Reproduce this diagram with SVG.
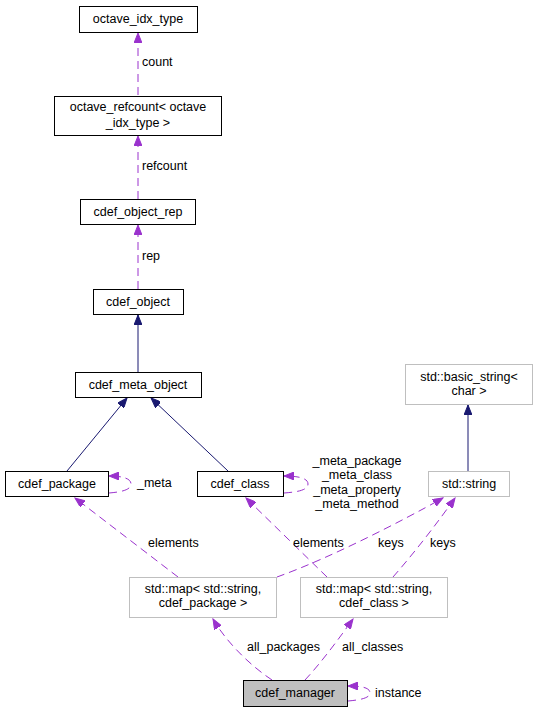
<svg xmlns="http://www.w3.org/2000/svg" width="537" height="712" viewBox="0 0 537 712">
<defs>
<marker id="ap" markerUnits="userSpaceOnUse" markerWidth="11" markerHeight="8" refX="10" refY="4" orient="auto"><path d="M0,0 L10,4 L0,8 z" fill="#9a32cd" stroke="#9a32cd" stroke-width="1"/></marker>
<marker id="an" markerUnits="userSpaceOnUse" markerWidth="11" markerHeight="8" refX="10" refY="4" orient="auto"><path d="M0,0 L10,4 L0,8 z" fill="#191970" stroke="#191970" stroke-width="1"/></marker>
<style>
text{font-family:"Liberation Sans",Arial,sans-serif;font-size:12.5px;fill:#000}
.n rect{fill:#fff;stroke:#000;stroke-width:1}
.g rect{fill:#fff;stroke:#bfbfbf;stroke-width:1}
.n text,.g text{text-anchor:middle}
.d{fill:none;stroke:#9a32cd;stroke-width:1;stroke-dasharray:8,5;marker-end:url(#ap)}
.s{fill:none;stroke:#191970;stroke-width:1;marker-end:url(#an)}
</style>
</defs>
<rect width="537" height="712" fill="#fff"/>
<g id="edges">
<path class="d" d="M138,95 L138,33"/>
<text x="142" y="66">count</text>
<path class="d" d="M138,199 L138,136"/>
<text x="142" y="170">refcount</text>
<path class="d" d="M138,289 L138,225"/>
<text x="142" y="260">rep</text>
<path class="s" d="M138,372 L138,315"/>
<path class="s" d="M67,471 L127,398"/>
<path class="s" d="M228,471 L151,398"/>
<path class="s" d="M468,471 L468,405"/>
<path class="d" d="M109,493 C121,492 131,490 131,484 C131,479 124,476 109,476"/>
<text x="137" y="487">_meta</text>
<path class="d" d="M284,493 C298,492 308,490 308,484 C308,479 301,476 284,476"/>
<text x="357" y="465" text-anchor="middle">_meta_package</text>
<text x="357" y="479" text-anchor="middle">_meta_class</text>
<text x="357" y="494" text-anchor="middle">_meta_property</text>
<text x="357" y="508" text-anchor="middle">_meta_method</text>
<path class="d" d="M178,577 L75,498"/>
<text x="148" y="547">elements</text>
<path class="d" d="M327,577 L246,498"/>
<text x="293" y="547">elements</text>
<path class="d" d="M277,577 C330,558 400,522 443,498"/>
<text x="378" y="547">keys</text>
<path class="d" d="M393,577 C415,552 438,522 455,498"/>
<text x="430" y="547">keys</text>
<path class="d" d="M272,680 C248,664 225,640 213,619"/>
<text x="247" y="651">all_packages</text>
<path class="d" d="M305,680 C320,664 338,640 353,619"/>
<text x="342" y="651">all_classes</text>
<path class="d" d="M348,701 C360,700 370,698 370,693 C370,688 363,686 348,686"/>
<text x="375" y="697">instance</text>
</g>
<g id="octave_idx_type" class="n"><rect x="79.5" y="6.5" width="118" height="26"/><text x="138" y="23">octave_idx_type</text></g>
<g id="octave_refcount" class="n"><rect x="54.5" y="96.5" width="167" height="39"/><text x="138" y="111">octave_refcount&lt; octave</text><text x="138" y="127">_idx_type &gt;</text></g>
<g id="cdef_object_rep" class="n"><rect x="80.5" y="199.5" width="115" height="25"/><text x="138" y="216">cdef_object_rep</text></g>
<g id="cdef_object" class="n"><rect x="93.5" y="289.5" width="90" height="25"/><text x="138" y="306">cdef_object</text></g>
<g id="cdef_meta_object" class="n"><rect x="75.5" y="372.5" width="126" height="25"/><text x="138" y="389">cdef_meta_object</text></g>
<g id="cdef_package" class="n"><rect x="5.5" y="471.5" width="103" height="25"/><text x="57" y="488">cdef_package</text></g>
<g id="cdef_class" class="n"><rect x="197.5" y="471.5" width="86" height="25"/><text x="240" y="488">cdef_class</text></g>
<g id="basic_string" class="g"><rect x="405.5" y="364.5" width="127" height="40"/><text x="469" y="381">std::basic_string&lt;</text><text x="469" y="395">char &gt;</text></g>
<g id="std_string" class="g"><rect x="428.5" y="471.5" width="81" height="25"/><text x="469" y="488">std::string</text></g>
<g id="map_package" class="g"><rect x="129.5" y="577.5" width="147" height="40"/><text x="203" y="593">std::map&lt; std::string,</text><text x="203" y="607">cdef_package &gt;</text></g>
<g id="map_class" class="g"><rect x="300.5" y="577.5" width="147" height="40"/><text x="374" y="593">std::map&lt; std::string,</text><text x="374" y="607">cdef_class &gt;</text></g>
<g id="cdef_manager"><rect x="243.5" y="680.5" width="104" height="26" fill="#bfbfbf" stroke="#000"/><text x="295" y="697" text-anchor="middle">cdef_manager</text></g>
</svg>
